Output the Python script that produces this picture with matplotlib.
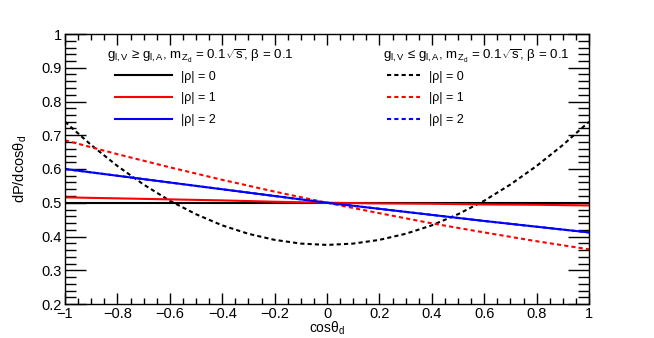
import numpy as np
import matplotlib
matplotlib.use("Agg")
from matplotlib import pyplot as plt
from matplotlib.ticker import MultipleLocator

plt.rcParams['font.family'] = ['Liberation Sans', 'DejaVu Sans']
plt.rcParams['mathtext.fontset'] = 'custom'
plt.rcParams['mathtext.rm'] = 'Liberation Sans'
plt.rcParams['mathtext.it'] = 'Liberation Sans'
plt.rcParams['mathtext.bf'] = 'Liberation Sans:bold'

# values
cos_coarse = [-1.0, -0.8, -0.6, -0.4, -0.2, 0.0, 0.2, 0.4, 0.6, 0.8, 1.0]
cos_fine = [-1.0, -0.9, -0.8, -0.7, -0.6, -0.5, -0.4, -0.3, -0.2, -0.1, 0.0,
            0.1, 0.2, 0.3, 0.4, 0.5, 0.6, 0.7, 0.8, 0.9, 1.0]

vge_rho0 = [0.500, 0.500, 0.500, 0.500, 0.500, 0.500, 0.500, 0.500, 0.500, 0.500, 0.500]
vge_rho1 = [0.516, 0.513, 0.510, 0.507, 0.503, 0.500, 0.498, 0.497, 0.495, 0.494, 0.492]
vge_rho2 = [0.600, 0.580, 0.560, 0.540, 0.520, 0.500, 0.482, 0.464, 0.446, 0.429, 0.412]

vle_rho0 = [0.740, 0.671, 0.609, 0.554, 0.506, 0.466, 0.433, 0.408, 0.390, 0.379, 0.375,
            0.379, 0.390, 0.408, 0.433, 0.466, 0.506, 0.554, 0.609, 0.671, 0.740]
vle_rho1 = [0.685, 0.644, 0.605, 0.568, 0.533, 0.500, 0.469, 0.439, 0.412, 0.386, 0.362]
vle_rho2 = [0.600, 0.580, 0.560, 0.540, 0.520, 0.500, 0.482, 0.464, 0.446, 0.429, 0.412]

labels = ["|ρ| = 0", "|ρ| = 1", "|ρ| = 2"]
colors = ["black", "red", "blue"]
xticklabels = ["−1", "−0.8", "−0.6", "−0.4", "−0.2", "0", "0.2", "0.4", "0.6", "0.8", "1"]
yticklabels = ["0.2", "0.3", "0.4", "0.5", "0.6", "0.7", "0.8", "0.9", "1"]
title_ge = r"$\mathrm{g_{l,V}}$ ≥ $\mathrm{g_{l,A}}$, $\mathrm{m_{Z_{d}}}$ = 0.1$\sqrt{\mathrm{s}}$, β = 0.1"
title_le = r"$\mathrm{g_{l,V}}$ ≤ $\mathrm{g_{l,A}}$, $\mathrm{m_{Z_{d}}}$ = 0.1$\sqrt{\mathrm{s}}$, β = 0.1"

fig = plt.figure(figsize=(6.54, 3.38), dpi=100)
ax = fig.add_axes([65 / 654, 1 - 304 / 338, 524 / 654, 270 / 338])

dash = (0, (2.0, 1.5))
lw = 1.5

h_dash = []
h_dash.append(ax.plot(cos_fine, vle_rho0, color=colors[0], lw=lw, ls=dash)[0])
h_dash.append(ax.plot(cos_coarse, vle_rho1, color=colors[1], lw=lw, ls=dash)[0])
h_dash.append(ax.plot(cos_coarse, vle_rho2, color=colors[2], lw=lw, ls=dash)[0])

h_solid = []
h_solid.append(ax.plot(cos_coarse, vge_rho0, color=colors[0], lw=lw)[0])
h_solid.append(ax.plot(cos_coarse, vge_rho1, color=colors[1], lw=lw)[0])
h_solid.append(ax.plot(cos_coarse, vge_rho2, color=colors[2], lw=lw)[0])

ax.set_xlim(-1, 1)
ax.set_ylim(0.2, 1.0)
ax.xaxis.set_minor_locator(MultipleLocator(0.05))
ax.yaxis.set_minor_locator(MultipleLocator(0.02))
ax.set_xticks(np.linspace(-1, 1, 11))
ax.set_xticklabels(xticklabels)
ax.set_yticks(np.linspace(0.2, 1.0, 9))
ax.set_yticklabels(yticklabels)

ax.tick_params(which="both", direction="in", top=True, right=True, labelsize=10.5,
               width=1.0, colors="black")
ax.tick_params(axis="y", which="major", length=15, pad=2)
ax.tick_params(axis="y", which="minor", length=8)
ax.tick_params(axis="x", which="major", length=8, pad=2)
ax.tick_params(axis="x", which="minor", length=4)
for s in ax.spines.values():
    s.set_linewidth(1.0)

ax.set_xlabel(r"cos$\mathrm{\theta_{d}}$", fontsize=10, labelpad=-0.5)
ax.set_ylabel(r"dP/dcos$\mathrm{\theta_{d}}$", fontsize=10.5, labelpad=9)

ax.text(0.080, 0.918, title_ge, transform=ax.transAxes, fontsize=9.6,
        ha="left", va="center")
ax.text(0.607, 0.918, title_le, transform=ax.transAxes, fontsize=9.6,
        ha="left", va="center")

leg1 = ax.legend(h_solid, labels, loc="upper left", bbox_to_anchor=(0.0954, 0.864),
                 frameon=False, fontsize=9, handlelength=4.6, handletextpad=0.65,
                 labelspacing=0.78, borderpad=0, borderaxespad=0)
ax.add_artist(leg1)
leg2 = ax.legend(h_dash, labels, loc="upper left", bbox_to_anchor=(0.615, 0.864),
                 frameon=False, fontsize=9, handlelength=2.65, handletextpad=0.65,
                 labelspacing=0.78, borderpad=0, borderaxespad=0)

fig.savefig("out.png", dpi=100)
